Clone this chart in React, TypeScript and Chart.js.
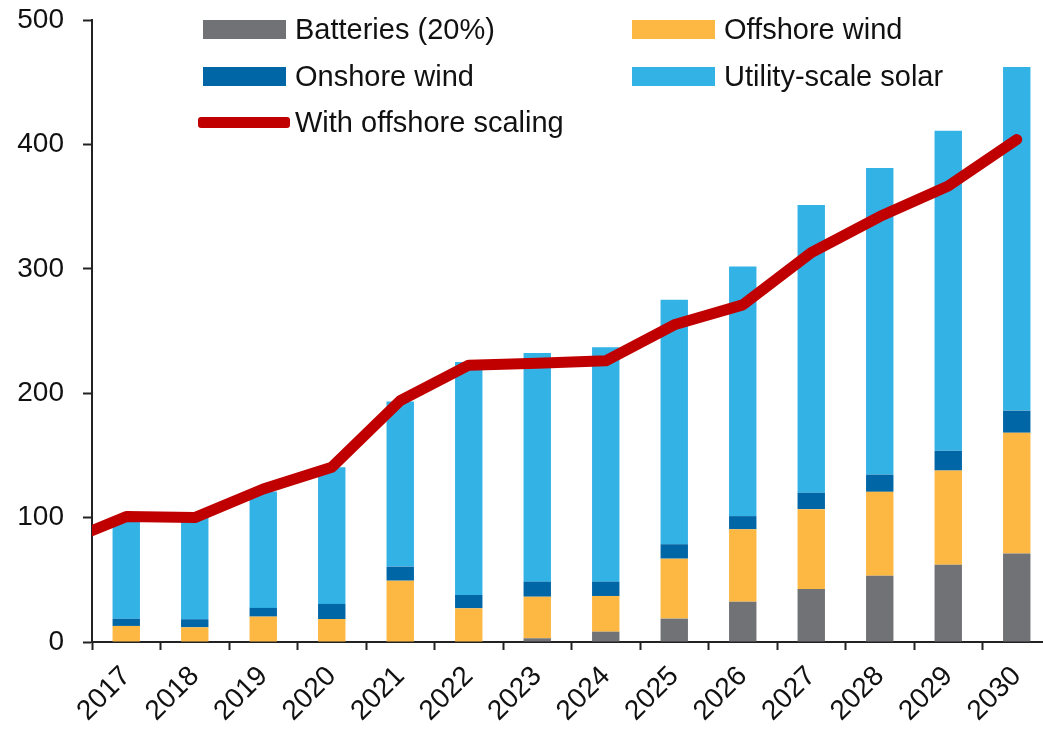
import React, { useEffect, useRef } from 'react';
import { Chart, registerables } from 'chart.js';

Chart.register(...registerables);

// ---- Data ----
const years = ['2017', '2018', '2019', '2020', '2021', '2022', '2023', '2024', '2025', '2026', '2027', '2028', '2029', '2030'];
const batteries = [0, 0, 0, 0, 0, 0, 3, 8.3, 18.8, 32.3, 42.6, 53.3, 62.1, 71.1];
const offshoreWind = [12.9, 11.8, 20.4, 18.5, 49.3, 27.1, 33.4, 28.7, 48.2, 58.3, 64.2, 67.4, 75.7, 97.1];
const onshoreWind = [5.8, 6.5, 7.0, 12.1, 11.3, 10.7, 12.1, 11.5, 11.6, 10.6, 13.2, 13.9, 15.9, 17.8];
const utilitySolar = [78.1, 81.7, 93.6, 109.9, 132.7, 187.2, 183.8, 188.5, 196.5, 200.6, 231.3, 246.4, 257.3, 276.3];
// line series starts one year before the first bar (its start is clipped at the axis)
const lineYears = [2016, 2017, 2018, 2019, 2020, 2021, 2022, 2023, 2024, 2025, 2026, 2027, 2028, 2029, 2030];
const offshoreScaling = [78.2, 100.8, 100, 123, 140.5, 194, 222.5, 224, 226, 255, 271, 313, 342, 366.5, 403.9];
const yTickValues = [0, 100, 200, 300, 400, 500];

const COLORS = {
  batteries: '#717275',
  offshore: '#FDB844',
  onshore: '#0066A6',
  solar: '#33B2E5',
  line: '#C00000',
};

const legendItems = [
  { label: 'Batteries (20%)', color: COLORS.batteries, kind: 'box', left: 203, top: 20 },
  { label: 'Offshore wind', color: COLORS.offshore, kind: 'box', left: 632, top: 20 },
  { label: 'Onshore wind', color: COLORS.onshore, kind: 'box', left: 203, top: 67 },
  { label: 'Utility-scale solar', color: COLORS.solar, kind: 'box', left: 632, top: 67 },
  { label: 'With offshore scaling', color: COLORS.line, kind: 'line', left: 198, top: 113 },
];

const FONT = '"Liberation Sans", Arial, sans-serif';

export default function App() {
  const canvasRef = useRef<HTMLCanvasElement | null>(null);

  useEffect(() => {
    const canvas = canvasRef.current;
    if (!canvas) return;
    const firstYear = Number(years[0]);
    const barCommon = { order: 1, stack: 'bars', grouped: false, categoryPercentage: 1, barPercentage: 0.4, borderWidth: 0 };
    const chart = new Chart(canvas, {
      data: {
        labels: years,
        datasets: [
          { type: 'bar', label: 'Batteries (20%)', data: batteries, backgroundColor: COLORS.batteries, ...barCommon },
          { type: 'bar', label: 'Offshore wind', data: offshoreWind, backgroundColor: COLORS.offshore, ...barCommon },
          { type: 'bar', label: 'Onshore wind', data: onshoreWind, backgroundColor: COLORS.onshore, ...barCommon },
          { type: 'bar', label: 'Utility-scale solar', data: utilitySolar, backgroundColor: COLORS.solar, ...barCommon },
          {
            type: 'line',
            label: 'With offshore scaling',
            data: lineYears.map((yr, i) => ({ x: yr - firstYear, y: offshoreScaling[i] })),
            xAxisID: 'x2',
            stack: 'line',
            borderColor: COLORS.line,
            borderWidth: 11,
            borderCapStyle: 'round',
            borderJoinStyle: 'round',
            pointRadius: 0,
            tension: 0,
            clip: 0,
            order: 0,
          } as any,
        ],
      },
      options: {
        responsive: false,
        animation: false,
        layout: { padding: { top: 20, right: 1, left: 0, bottom: 0 } },
        plugins: {
          legend: { display: false },
          tooltip: { enabled: false },
        },
        scales: {
          x: {
            type: 'category',
            stacked: true,
            offset: true,
            grid: {
              offset: true,
              drawOnChartArea: false,
              drawTicks: true,
              tickLength: 8,
              tickWidth: 2,
              tickColor: '#222',
            },
            border: { display: true, color: '#222', width: 2 },
            ticks: {
              color: '#111',
              font: { family: FONT, size: 28 },
              minRotation: 45,
              maxRotation: 45,
              autoSkip: false,
              padding: 10,
            },
            afterFit: (s: any) => { s.height = 92; },
          },
          x2: {
            type: 'linear',
            display: false,
            min: -0.5,
            max: years.length - 0.5,
          },
          y: {
            type: 'linear',
            stacked: true,
            min: 0,
            max: 500,
            afterBuildTicks: (s: any) => { s.ticks = yTickValues.map((v) => ({ value: v })); },
            grid: {
              drawOnChartArea: false,
              drawTicks: true,
              tickLength: 9,
              tickWidth: 2,
              tickColor: '#222',
            },
            border: { display: true, color: '#222', width: 2 },
            ticks: {
              color: '#111',
              font: { family: FONT, size: 28 },
              padding: 19,
            },
            afterFit: (s: any) => {
              s.width = 92;
              s.paddingTop = 0;
              s.paddingBottom = 0;
            },
          },
        },
      } as any,
    });
    return () => chart.destroy();
  }, []);

  return (
    <div style={{ position: 'fixed', left: 0, top: 0, width: 1052, height: 734, background: '#fff', overflow: 'hidden' }}>
      <canvas ref={canvasRef} width={1052} height={734} style={{ display: 'block', width: 1052, height: 734 }} />
      {legendItems.map((it) => (
        <div
          key={it.label}
          style={{
            position: 'absolute',
            left: it.left,
            top: it.top,
            height: 19,
            display: 'flex',
            alignItems: 'center',
            fontFamily: FONT,
            fontSize: 29,
            color: '#111',
            whiteSpace: 'nowrap',
          }}
        >
          {it.kind === 'box' ? (
            <span style={{ display: 'inline-block', width: 83, height: 19, background: it.color }} />
          ) : (
            <span style={{ display: 'inline-block', width: 92, height: 11, background: it.color, borderRadius: 3 }} />
          )}
          <span style={{ marginLeft: it.kind === 'box' ? 9 : 5, lineHeight: '19px' }}>{it.label}</span>
        </div>
      ))}
    </div>
  );
}
